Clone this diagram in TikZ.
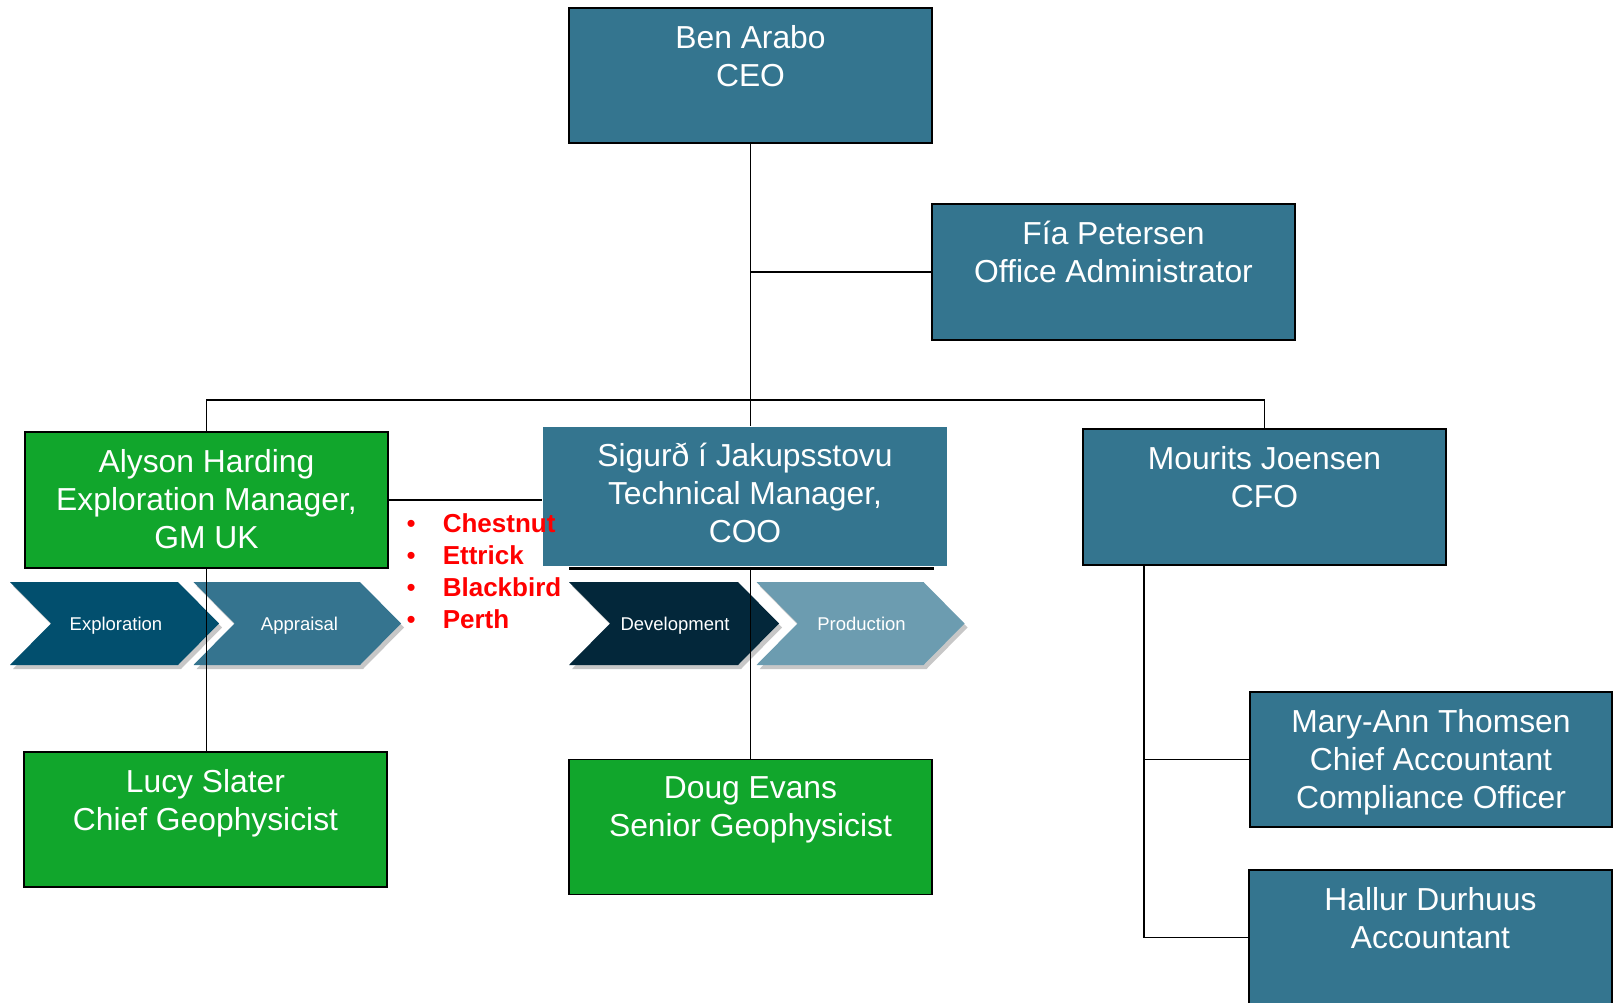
\documentclass[tikz,border=0pt]{standalone}
\usepackage{fontspec}
\setmainfont{Liberation Sans}
\usepackage{xcolor}
\usetikzlibrary{positioning,calc,shadows}

\definecolor{boxteal}{RGB}{52,117,143}
\definecolor{boxgreen}{RGB}{17,166,44}
\definecolor{phExplo}{RGB}{2,79,110}
\definecolor{phAppr}{RGB}{53,116,143}
\definecolor{phDev}{RGB}{3,39,58}
\definecolor{phProd}{RGB}{108,156,176}

\begin{document}
\begin{tikzpicture}[
        x=1pt, y=-1pt,
        orgbox/.style={draw=black, line width=1.6pt, fill=boxteal, minimum width=363pt, minimum height=135pt, inner sep=0pt},
        teambox/.style={orgbox, fill=boxgreen},
        nametext/.style={text=white, align=center, inner sep=0pt, font=\fontsize{31.8}{38}\selectfont},
        link/.style={draw=black, line width=1.5pt},
        phase/.style={drop shadow={shadow xshift=3pt, shadow yshift=-4pt, opacity=0.22, fill=black}},
        phasetext/.style={text=white, inner sep=0pt, anchor=base, font=\fontsize{18.5}{22}\selectfont}
    ]
        \clip (0,0) rectangle (1614,1003);

        % people
        \node[orgbox] (ceo) at (750.5,75.5) {};
        \node[nametext, below=18pt of ceo.north] (ceo-t) {Ben Arabo\\CEO};
        \node[orgbox, minimum height=136pt] (fia) at (1113.5,272) {};
        \node[nametext, below=18pt of fia.north] (fia-t) {Fía Petersen\\Office Administrator};
        \node[teambox, minimum height=136pt] (alyson) at (206.5,500) {};
        \node[nametext, below=18pt of alyson.north] (alyson-t) {Alyson Harding\\Exploration Manager,\\GM UK};
        \node[orgbox, minimum height=136pt] (mourits) at (1264.5,497) {};
        \node[nametext, below=18pt of mourits.north] (mourits-t) {Mourits Joensen\\CFO};
        \node[orgbox, minimum width=362pt] (maryann) at (1431,759.5) {};
        \node[nametext, below=18pt of maryann.north] (maryann-t) {Mary-Ann Thomsen\\Chief Accountant\\Compliance Officer};
        \node[orgbox] (hallur) at (1430.5,937.5) {};
        \node[nametext, below=18pt of hallur.north] (hallur-t) {Hallur Durhuus\\Accountant};
        \node[teambox] (lucy) at (205.5,819.5) {};
        \node[nametext, below=18pt of lucy.north] (lucy-t) {Lucy Slater\\Chief Geophysicist};
        \node[teambox] (doug) at (750.5,827) {};
        \node[nametext, below=18pt of doug.north] (doug-t) {Doug Evans\\Senior Geophysicist};
        \draw[line width=3pt] (569,568) -- (934,568);
        \node[orgbox, draw=none, minimum width=404pt, minimum height=139pt] (sigurd) at (745,496.5) {};
        \node[nametext, below=17pt of sigurd.north] (sigurd-t) {Sigurð í Jakupsstovu\\Technical Manager,\\COO};

        % asset phases
        \fill[phase, fill=phExplo] (10,582) -- (178,582) -- (219,623.5) -- (178,665) -- (10,665) -- (51,623.5) -- cycle;
        \fill[phase, fill=phAppr] (193.5,582) -- (360,582) -- (401,623.5) -- (360,665) -- (193.5,665) -- (234.5,623.5) -- cycle;
        \fill[phase, fill=phDev] (569,582) -- (738,582) -- (779,623.5) -- (738,665) -- (569,665) -- (610,623.5) -- cycle;
        \fill[phase, fill=phProd] (756.5,582) -- (923.5,582) -- (964.5,623.5) -- (923.5,665) -- (756.5,665) -- (797.5,623.5) -- cycle;
        \node[phasetext] (explo) at (116,630) {Exploration};
        \node[phasetext] (appr) at (299.5,630) {Appraisal};
        \node[phasetext] (devel) at (675,630) {Development};
        \node[phasetext] (prod) at (861.5,630) {Production};

        % reporting lines
        \coordinate (bar) at (750.5,400);
        \coordinate (cfotop) at (1144,565);
        \draw[link] (ceo.south) -- (ceo.south |- sigurd.north);
        \draw[link] (ceo.south |- fia.west) -- (fia.west);
        \draw[link] (alyson.north) |- (bar) -| (mourits.north);
        \draw[link] (alyson.east) -- (alyson.east -| sigurd.west);
        \draw[link] (alyson.south) -- (alyson.south |- lucy.north);
        \draw[link] (doug.north |- sigurd.south) -- (doug.north);
        \draw[link] (cfotop) |- (hallur.west);
        \draw[link] (cfotop |- maryann.west) -- (maryann.west);

        % fields
        \node[anchor=north west, align=left, inner sep=0pt, text=red, font=\fontsize{26}{32}\selectfont\bfseries] (fields) at (406.5,513)
            {{\mdseries\textbullet}\hspace{27pt}Chestnut\\{\mdseries\textbullet}\hspace{27pt}Ettrick\\{\mdseries\textbullet}\hspace{27pt}Blackbird\\{\mdseries\textbullet}\hspace{27pt}Perth};
    \end{tikzpicture}
\end{document}
